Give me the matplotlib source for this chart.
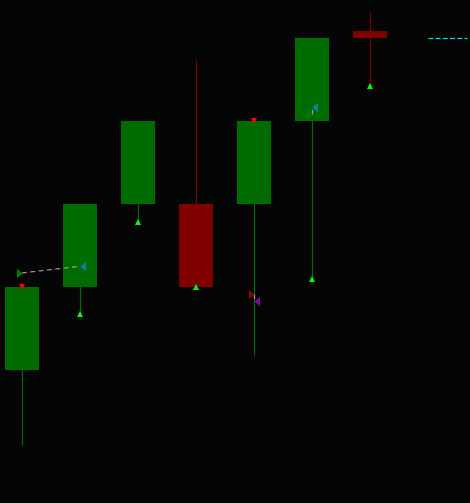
import matplotlib
matplotlib.use("Agg")
import matplotlib.pyplot as plt
import numpy as np
from matplotlib.path import Path

# ---- data ----
bar_idx = [0, 1, 2, 3, 4, 5, 6]
opens = [100.00, 101.00, 102.00, 102.00, 102.00, 103.00, 104.08]
closes = [101.00, 102.00, 103.00, 101.00, 103.00, 104.00, 104.00]
highs = [101.00, 102.00, 103.00, 103.73, 103.00, 104.00, 104.31]
lows = [99.10, 100.67, 101.78, 101.00, 100.18, 101.10, 103.42]

buy_sig_idx = [1, 2, 3, 5, 6]      # lime up-triangles at lows
sell_sig_idx = [0, 4]              # red down-triangles at highs

# trades: entry bar, entry price, exit bar, exit price, entry colour, exit colour
trade_entry_x = [0, 4, 5]
trade_entry_p = [101.17, 100.92, 103.08]
trade_exit_x = [1, 4, 5]
trade_exit_p = [101.25, 100.83, 103.17]
trade_entry_col = ["#008000", "#8b0000", "#008000"]
trade_exit_col = ["#0a80a8", "#8a00a8", "#0a80a8"]

last_price = 104.00
price_line_x = [7.0, 7.67]

# ---- figure ----
W, H, DPI = 470, 503, 100
fig = plt.figure(figsize=(W / DPI, H / DPI), dpi=DPI)
bg = "#050505"
fig.patch.set_facecolor(bg)
ax = fig.add_axes([0, 0, 1, 1])
ax.set_facecolor(bg)
ax.set_axis_off()
ax.set_xlim(-0.379, 7.724)
ax.set_ylim(98.398, 104.458)

px = 72.0 / DPI  # points per pixel
green = "#006c00"
red = "#800000"

cols = [green if c >= o else red for o, c in zip(opens, closes)]
ax.vlines(bar_idx, lows, highs, colors=cols, linewidth=1.2 * px, zorder=1)
bottoms = [min(o, c) for o, c in zip(opens, closes)]
heights = [abs(c - o) for o, c in zip(opens, closes)]
ax.bar(bar_idx, heights, bottom=bottoms, width=34 / 58, color=cols,
       linewidth=0, zorder=2)

# signals
ax.plot([bar_idx[i] for i in buy_sig_idx], [lows[i] for i in buy_sig_idx],
        linestyle="none", marker="^", color="#00ff00", markersize=6 * px,
        markeredgewidth=0, zorder=4)
ax.plot([bar_idx[i] for i in sell_sig_idx], [highs[i] for i in sell_sig_idx],
        linestyle="none", marker="v", color="#ff0000", markersize=6 * px,
        markeredgewidth=0, zorder=4)

# trade arrows with tip at the point
w = 1.16
right_arrow = Path([(0, 0), (-w, 1), (-w, -1), (0, 0)],
                   [Path.MOVETO, Path.LINETO, Path.LINETO, Path.CLOSEPOLY])
left_arrow = Path([(0, 0), (w, 1), (w, -1), (0, 0)],
                  [Path.MOVETO, Path.LINETO, Path.LINETO, Path.CLOSEPOLY])
arrow_ms = 9.5 * w * px
for ex, ep, xx, xp, ec, xc in zip(trade_entry_x, trade_entry_p, trade_exit_x,
                                  trade_exit_p, trade_entry_col, trade_exit_col):
    ax.plot([ex, xx], [ep, xp], color="#9a9a9a", linewidth=1.2 * px,
            dashes=(4, 3), zorder=3)
    ax.plot([ex], [ep], linestyle="none", marker=right_arrow, color=ec,
            markersize=arrow_ms, markeredgewidth=0, zorder=5)
    ax.plot([xx], [xp], linestyle="none", marker=left_arrow, color=xc,
            markersize=arrow_ms, markeredgewidth=0, zorder=5)

# last price line
ax.plot(price_line_x, [last_price, last_price], color="#00e5ff",
        linewidth=1.2 * px, dashes=(4, 2), zorder=3)

fig.savefig("out.png", dpi=DPI, facecolor=bg)
